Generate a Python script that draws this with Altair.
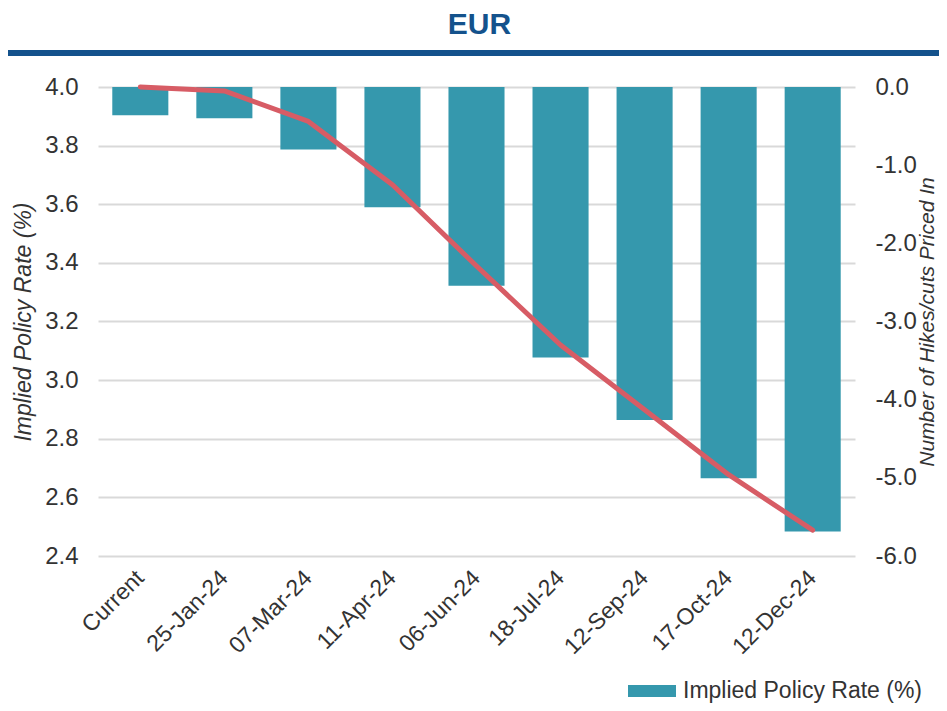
import altair as alt
import pandas as pd

dates = ["Current", "25-Jan-24", "07-Mar-24", "11-Apr-24", "06-Jun-24",
         "18-Jul-24", "12-Sep-24", "17-Oct-24", "12-Dec-24"]
implied_rate = [3.904, 3.893, 3.787, 3.590, 3.322, 3.077, 2.864, 2.665, 2.484]
hikes_cuts = [0.0, -0.05, -0.44, -1.25, -2.29, -3.30, -4.13, -4.96, -5.67]
left_ticks = [2.4, 2.6, 2.8, 3.0, 3.2, 3.4, 3.6, 3.8, 4.0]
right_ticks = [0, -1, -2, -3, -4, -5, -6]

df = pd.DataFrame({
    "date": dates,
    "rate": implied_rate,
    "hikes": hikes_cuts,
    "series": ["Implied Policy Rate (%)"] * len(dates),
})

FONT = "Liberation Sans"
TEAL = "#3598ad"
RED = "#d75c65"
BLUE = "#14528c"
TXT = "#333333"

xenc = alt.X("date:N", sort=dates, title=None,
             scale=alt.Scale(paddingInner=0.333, paddingOuter=0.17),
             axis=alt.Axis(labelAngle=-45, labelAlign="right", labelBaseline="middle",
                           labelPadding=18, ticks=False, domain=False, grid=False,
                           labelFontSize=23, labelColor=TXT, labelFont=FONT))

bars = alt.Chart(df).mark_bar(color=TEAL).encode(
    x=xenc,
    y=alt.Y("rate:Q", title="Implied Policy Rate (%)",
            scale=alt.Scale(domain=[2.4, 4.0], nice=False, zero=False),
            axis=alt.Axis(values=left_ticks, format=".1f", orient="left",
                          grid=True, gridColor="#d9d9d9", gridWidth=2,
                          ticks=False, domain=False, labelPadding=20,
                          labelFontSize=24, labelColor=TXT, labelFont=FONT,
                          titleFontSize=23, titleFontStyle="italic", titleFontWeight="normal",
                          titleColor=TXT, titleFont=FONT, titlePadding=9)),
    y2=alt.datum(4.0),
    color=alt.Color("series:N", scale=alt.Scale(range=[TEAL]),
                    legend=alt.Legend(orient="none", legendX=530, legendY=580, title=None,
                                      symbolType="M-1,-0.25H1V0.25H-1Z", symbolSize=2304,
                                      symbolStrokeWidth=0, symbolOpacity=1,
                                      symbolFillColor=TEAL,
                                      labelFontSize=23, labelColor=TXT, labelFont=FONT,
                                      labelOffset=7, labelLimit=400, padding=0)),
)

line = alt.Chart(df).mark_line(color=RED, strokeWidth=5, strokeCap="round",
                               strokeJoin="round").encode(
    x=alt.X("date:N", sort=dates),
    y=alt.Y("hikes:Q", title="Number of Hikes/cuts Priced In",
            scale=alt.Scale(domain=[-6, 0], nice=False, zero=False),
            axis=alt.Axis(values=right_ticks, orient="right", grid=False,
                          labelExpr="(datum.value < 0 ? '-' : '') + format(abs(datum.value), '.1f')",
                          ticks=False, domain=False, labelPadding=20,
                          labelFontSize=24, labelColor=TXT, labelFont=FONT,
                          titleFontSize=21, titleFontStyle="italic", titleFontWeight="normal",
                          titleColor=TXT, titleFont=FONT, titleAngle=270,
                          titleBaseline="top", titlePadding=0)),
)

rule_df = pd.DataFrame({"k": [0]})
header_rule = alt.Chart(rule_df).mark_rule(color=BLUE, strokeWidth=6).encode(
    x=alt.value(-95), x2=alt.value(848), y=alt.value(-34)
)

chart = alt.layer(bars, line, header_rule).resolve_scale(
    y="independent"
).properties(
    width=757, height=469,
    title=alt.TitleParams("EUR", fontSize=30, fontWeight="bold", color=BLUE, font=FONT,
                          anchor="middle", offset=10, dx=3),
    autosize=alt.AutoSizeParams(type="none"),
    padding={"left": 90, "top": 79, "right": 84, "bottom": 147},
).configure_view(stroke=None)

chart.save("out.html", embed_options={"renderer": "svg", "actions": False})
